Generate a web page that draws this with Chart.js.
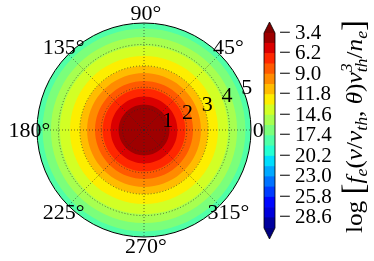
<!DOCTYPE html>
<html>
<head>
<meta charset="utf-8">
<script src="https://cdn.jsdelivr.net/npm/chart.js@4.4.1/dist/chart.umd.min.js"></script>
<style>
html,body{margin:0;padding:0;background:#fff;}
#wrap{position:relative;width:374px;height:261px;overflow:hidden;}
canvas{position:absolute;top:0;}
</style>
</head>
<body>
<div id="wrap">
<canvas id="polar" width="374" height="261" style="left:0"></canvas>
<canvas id="cbar" width="124" height="261" style="left:250px"></canvas>
</div>
<script>
// ---------------- data ----------------
const thetaLabels = ['0°', '45°', '90°', '135°', '180°', '225°', '270°', '315°'];
const radialTicks = [1, 2, 3, 4, 5];
// contour level (log value) and the radius v/v_th where the distribution crosses it
const contourLevels = [-4.8, -6.2, -7.6, -9.0, -10.4, -11.8, -13.2, -14.6, -16.0, -17.4, -18.8];
const contourRadii  = [1.19, 1.56, 1.93, 2.29, 2.66, 2.99, 3.46, 3.93, 4.35, 4.74, 5.0];
// colorbar level boundaries and tick labels
const colorbarLevels = [-30.0, -28.6, -27.2, -25.8, -24.4, -23.0, -21.6, -20.2, -18.8, -17.4,
                        -16.0, -14.6, -13.2, -11.8, -10.4, -9.0, -7.6, -6.2, -4.8, -3.4];
const colorbarTicks = [-3.4, -6.2, -9.0, -11.8, -14.6, -17.4, -20.2, -23.0, -25.8, -28.6];

// ---------------- style helpers ----------------
const SERIF = '"Liberation Serif", "DejaVu Serif", serif';
function jet(x) {
  function seg(pts) {
    for (let i = 0; i < pts.length - 1; i++) {
      const [x0, y0] = pts[i], [x1, y1] = pts[i + 1];
      if (x >= x0 && x <= x1) return y0 + (y1 - y0) * (x - x0) / (x1 - x0);
    }
    return pts[pts.length - 1][1];
  }
  const r = seg([[0, 0], [0.35, 0], [0.66, 1], [0.89, 1], [1, 0.5]]);
  const g = seg([[0, 0], [0.125, 0], [0.375, 1], [0.64, 1], [0.91, 0], [1, 0]]);
  const b = seg([[0, 0.5], [0.11, 1], [0.34, 1], [0.65, 0], [1, 0]]);
  return `rgb(${Math.round(r * 255)},${Math.round(g * 255)},${Math.round(b * 255)})`;
}
const nBands = colorbarLevels.length - 1;
function bandColorIndex(k) { return jet((k + 0.5) / nBands); }
function bandColorForLevel(L) {
  const k = Math.round((L - colorbarLevels[0]) / (colorbarLevels[1] - colorbarLevels[0]));
  return bandColorIndex(k);
}

// angular sampling of each contour (structure only)
const angleLabels = Array.from({length: 72}, (_, i) => String((360 - 5 * i) % 360));

// ---------------- polar chart ----------------
const polarLabelsPlugin = {
  id: 'polarLabels',
  afterDraw(chart) {
    const sc = chart.scales.r;
    const ctx = chart.ctx;
    ctx.save();
    ctx.fillStyle = '#000';
    ctx.font = `22px ${SERIF}`;
    ctx.textAlign = 'center';
    ctx.textBaseline = 'middle';
    thetaLabels.forEach((t, i) => {
      const a = i * Math.PI / 4;
      const d = sc.getDistanceFromCenterForValue(5.45);
      ctx.fillText(t, sc.xCenter + d * Math.cos(a) + 2, sc.yCenter - d * Math.sin(a) + 1);
    });
    const ra = 22.5 * Math.PI / 180;
    radialTicks.forEach(v => {
      const d = sc.getDistanceFromCenterForValue(v + 0.2);
      ctx.fillText(String(v), sc.xCenter + d * Math.cos(ra), sc.yCenter - d * Math.sin(ra) + 1);
    });
    ctx.restore();
  }
};

new Chart(document.getElementById('polar'), {
  type: 'radar',
  data: {
    labels: angleLabels,
    datasets: contourLevels.map((L, i) => ({
      data: angleLabels.map(() => contourRadii[i]),
      backgroundColor: bandColorForLevel(L),
      borderColor: bandColorForLevel(L),
      borderWidth: 0,
      pointRadius: 0,
      fill: 'origin'
    }))
  },
  options: {
    responsive: false,
    animation: false,
    layout: {padding: {left: 37, top: 23, right: 123, bottom: 24}},
    plugins: {legend: {display: false}, tooltip: {enabled: false}},
    scales: {
      r: {
        min: 0, max: 5,
        startAngle: 90,
        ticks: {display: false, stepSize: 1},
        pointLabels: {display: false},
        grid: {
          z: 1,
          circular: true,
          color: (c) => (c.tick && c.tick.value === 5) ? '#000' : 'rgba(40,40,40,0.85)',
          lineWidth: (c) => (c.tick && c.tick.value === 5) ? 1 : 0.8
        },
        border: {
          dash: (c) => (c.tick && c.tick.value === 5) ? [] : [1, 2]
        },
        angleLines: {
          display: true,
          color: (c) => (c.index % 9 === 0) ? 'rgba(40,40,40,0.85)' : 'rgba(0,0,0,0)',
          lineWidth: 0.8,
          borderDash: [1, 2]
        }
      }
    }
  },
  plugins: [polarLabelsPlugin]
});

// ---------------- colorbar ----------------
const cbarExtrasPlugin = {
  id: 'cbarExtras',
  afterDatasetsDraw(chart) {
    const ctx = chart.ctx;
    const a = chart.chartArea;
    const y = chart.scales.y;
    const top = y.getPixelForValue(colorbarLevels[colorbarLevels.length - 1]);
    const bot = y.getPixelForValue(colorbarLevels[0]);
    const cx = (a.left + a.right) / 2;
    const tri = 11;
    ctx.save();
    ctx.fillStyle = jet(1);
    ctx.beginPath(); ctx.moveTo(a.left, top); ctx.lineTo(cx, top - tri); ctx.lineTo(a.right, top); ctx.closePath(); ctx.fill();
    ctx.fillStyle = jet(0);
    ctx.beginPath(); ctx.moveTo(a.left, bot); ctx.lineTo(cx, bot + tri); ctx.lineTo(a.right, bot); ctx.closePath(); ctx.fill();
    ctx.strokeStyle = '#000';
    ctx.lineWidth = 0.8;
    ctx.beginPath();
    ctx.moveTo(a.left, top); ctx.lineTo(cx, top - tri); ctx.lineTo(a.right, top);
    ctx.lineTo(a.right, bot); ctx.lineTo(cx, bot + tri); ctx.lineTo(a.left, bot); ctx.closePath();
    ctx.stroke();
    ctx.restore();
  },
  afterDraw(chart) {
    const ctx = chart.ctx;
    const S = 24, s = 17;
    const it = (sz) => `italic ${sz}px ${SERIF}`;
    const up = (sz) => `${sz}px ${SERIF}`;
    const pieces = [
      {t: 'log', f: up(S)},
      {t: ' ', f: up(S)},
      {t: '[', f: up(S * 1.3), dy: 2},
      {t: 'f', f: it(S)},
      {t: 'e', f: it(s), dy: 5},
      {t: '(', f: up(S)},
      {t: 'v', f: it(S)},
      {t: '/', f: up(S)},
      {t: 'v', f: it(S)},
      {t: 'th', f: it(s), dy: 5},
      {t: ', ', f: up(S)},
      {t: 'θ', f: it(S)},
      {t: ')', f: up(S)},
      {t: 'v', f: it(S)},
      {t: 'th', f: it(s), dy: 5, stackSup: '3'},
      {t: '/', f: up(S)},
      {t: 'n', f: it(S)},
      {t: 'e', f: it(s), dy: 5},
      {t: ']', f: up(S * 1.3), dy: 2}
    ];
    ctx.save();
    let total = 0;
    pieces.forEach(p => { ctx.font = p.f; p.w = ctx.measureText(p.t).width; total += p.w; });
    const target = 213;
    ctx.translate(112, 233);
    ctx.rotate(-Math.PI / 2);
    ctx.scale(target / total, 1);
    ctx.fillStyle = '#000';
    ctx.textBaseline = 'alphabetic';
    let x = 0;
    pieces.forEach(p => {
      ctx.font = p.f;
      ctx.fillText(p.t, x, p.dy || 0);
      if (p.stackSup) ctx.fillText(p.stackSup, x, -10);
      x += p.w;
    });
    ctx.restore();
  }
};

new Chart(document.getElementById('cbar'), {
  type: 'bar',
  data: {
    labels: ['cb'],
    datasets: colorbarLevels.slice(0, -1).map((lo, k) => ({
      data: [[lo, colorbarLevels[k + 1]]],
      backgroundColor: bandColorIndex(k),
      borderWidth: 0,
      grouped: false,
      barPercentage: 1,
      categoryPercentage: 1
    }))
  },
  options: {
    responsive: false,
    animation: false,
    layout: {padding: {left: 14, top: 33, bottom: 33, right: 0}},
    plugins: {legend: {display: false}, tooltip: {enabled: false}},
    scales: {
      x: {display: false},
      y: {
        position: 'right',
        min: colorbarLevels[0],
        max: colorbarLevels[colorbarLevels.length - 1],
        grid: {display: false, drawTicks: false},
        border: {display: false},
        afterBuildTicks: (sc) => { sc.ticks = colorbarTicks.map(v => ({value: v})); },
        afterFit: (sc) => { sc.width = 99; },
        ticks: {
          autoSkip: false,
          padding: 4,
          color: '#000',
          font: {family: SERIF, size: 21},
          callback: (v) => '\u2212\u2009' + Math.abs(v).toFixed(1)
        }
      }
    }
  },
  plugins: [cbarExtrasPlugin]
});
</script>
</body>
</html>
